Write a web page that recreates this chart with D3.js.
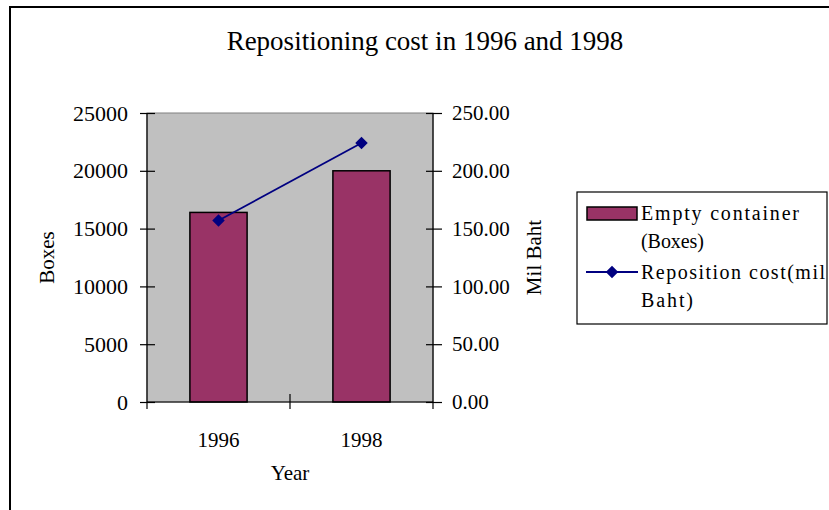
<!DOCTYPE html>
<html>
<head>
<meta charset="utf-8">
<script src="https://cdn.jsdelivr.net/npm/d3@7"></script>
<style>
  html, body { margin: 0; padding: 0; background: #fff; }
  svg { display: block; font-family: "Liberation Serif", "Times New Roman", serif; }
</style>
</head>
<body>
<svg id="chart" width="829" height="510"></svg>
<script>
// Chart data
const years = ["1996", "1998"];
const boxes = [16400, 20000];          // empty containers (boxes), left axis
const costMilBaht = [157, 224];        // reposition cost (mil Baht), right axis
const leftTicks = [0, 5000, 10000, 15000, 20000, 25000];
const rightTicks = [0, 50, 100, 150, 200, 250];
const legendLabels = [["Empty container", "(Boxes)"], ["Reposition cost(mil", "Baht)"]];

const svg = d3.select("#chart");
const plot = { left: 147, right: 433, top: 113, bottom: 402 };

// Outer chart frame
svg.append("rect")
  .attr("x", 10).attr("y", 7).attr("width", 840).attr("height", 520)
  .attr("fill", "#fff").attr("stroke", "#000").attr("stroke-width", 2);

// Title
svg.append("text")
  .attr("x", 425).attr("y", 50)
  .attr("text-anchor", "middle")
  .attr("font-size", 27)
  .text("Repositioning cost in 1996 and 1998");

// Scales
const x = d3.scaleBand().domain(years).range([plot.left, plot.right]).padding(0);
const y = d3.scaleLinear().domain([0, 25000]).range([plot.bottom, plot.top]);
const y2 = d3.scaleLinear().domain([0, 250]).range([plot.bottom, plot.top]);

// Plot area
svg.append("rect")
  .attr("x", plot.left).attr("y", plot.top)
  .attr("width", plot.right - plot.left).attr("height", plot.bottom - plot.top)
  .attr("fill", "#c0c0c0").attr("stroke", "#808080").attr("stroke-width", 1);

// Bars (gap width 150%)
const barW = x.bandwidth() / 2.5;
svg.append("g").selectAll("rect")
  .data(years)
  .join("rect")
  .attr("x", d => x(d) + (x.bandwidth() - barW) / 2)
  .attr("y", (d, i) => y(boxes[i]))
  .attr("width", barW)
  .attr("height", (d, i) => plot.bottom - y(boxes[i]))
  .attr("fill", "#993366")
  .attr("stroke", "#000")
  .attr("stroke-width", 1.5);

// Left axis
const axL = svg.append("g")
  .attr("transform", `translate(${plot.left},0)`)
  .call(d3.axisLeft(y).tickValues(leftTicks).tickSize(7).tickPadding(12).tickFormat(d3.format("d")));
axL.selectAll(".tick line").attr("x1", 8);
axL.select(".domain").attr("d", `M0,${plot.bottom}V${plot.top}`);

// Right axis
const axR = svg.append("g")
  .attr("transform", `translate(${plot.right},0)`)
  .call(d3.axisRight(y2).tickValues(rightTicks).tickSize(9).tickPadding(10).tickFormat(d3.format(".2f")));
axR.selectAll(".tick line").attr("x1", -7);
axR.select(".domain").attr("d", `M0,${plot.bottom}V${plot.top}`);

// Bottom axis: labels at category centres, ticks at category boundaries
const axB = svg.append("g")
  .attr("transform", `translate(0,${plot.bottom})`)
  .call(d3.axisBottom(x).tickSize(0).tickPadding(30));
axB.select(".domain").attr("d", `M${plot.left},0H${plot.right}`);
const bounds = [x(years[0])].concat(years.map(d => x(d) + x.bandwidth()));
axB.selectAll(".bound")
  .data(bounds)
  .join("line")
  .attr("class", "bound")
  .attr("x1", d => d).attr("x2", d => d)
  .attr("y1", (d, i) => (i === 0 || i === bounds.length - 1) ? 0 : -8)
  .attr("y2", 7)
  .attr("stroke", "#000");

[axL, axR, axB].forEach(g => {
  g.selectAll(".tick text").attr("font-family", null).attr("font-size", 21).attr("fill", "#000");
  g.attr("font-family", null).attr("font-size", null);
  g.selectAll("line, path").attr("stroke", "#000").attr("stroke-width", 1.2);
});
axL.selectAll(".tick text").attr("font-size", 22);

// Line series on right axis
const cx = d => x(d) + x.bandwidth() / 2;
svg.append("path")
  .datum(years)
  .attr("fill", "none")
  .attr("stroke", "#000080")
  .attr("stroke-width", 1.8)
  .attr("d", d3.line().x(d => cx(d)).y((d, i) => y2(costMilBaht[i])));
const diamond = d3.symbol().type(d3.symbolDiamond2).size(100);
svg.append("g").selectAll("path")
  .data(years)
  .join("path")
  .attr("transform", (d, i) => `translate(${cx(d)},${y2(costMilBaht[i])})`)
  .attr("d", diamond)
  .attr("fill", "#000080");

// Axis titles
svg.append("text")
  .attr("transform", `translate(54,${(plot.top + plot.bottom) / 2}) rotate(-90)`)
  .attr("text-anchor", "middle").attr("font-size", 21).text("Boxes");
svg.append("text")
  .attr("transform", `translate(541,${(plot.top + plot.bottom) / 2}) rotate(-90)`)
  .attr("text-anchor", "middle").attr("font-size", 21).text("Mil Baht");
svg.append("text")
  .attr("x", (plot.left + plot.right) / 2).attr("y", 480)
  .attr("text-anchor", "middle").attr("font-size", 21).text("Year");

// Legend
const lg = svg.append("g");
lg.append("rect")
  .attr("x", 577).attr("y", 192).attr("width", 250).attr("height", 132)
  .attr("fill", "#fff").attr("stroke", "#000").attr("stroke-width", 1.2);
lg.append("rect")
  .attr("x", 587).attr("y", 207).attr("width", 50).attr("height", 13)
  .attr("fill", "#993366").attr("stroke", "#000").attr("stroke-width", 1.5);
lg.append("line")
  .attr("x1", 586).attr("x2", 638).attr("y1", 272).attr("y2", 272)
  .attr("stroke", "#000080").attr("stroke-width", 1.8);
lg.append("path")
  .attr("transform", "translate(612,272)")
  .attr("d", diamond).attr("fill", "#000080");
const lineY = [[219.5, 247.5], [278.5, 306.5]];
const lineLen = [[158, 63], [184, 52]];
legendLabels.forEach((lines, i) => {
  lines.forEach((t, j) => {
    lg.append("text")
      .attr("x", 641).attr("y", lineY[i][j])
      .attr("font-size", 20)
      .attr("textLength", lineLen[i][j])
      .attr("lengthAdjust", "spacing")
      .text(t);
  });
});
</script>
</body>
</html>
